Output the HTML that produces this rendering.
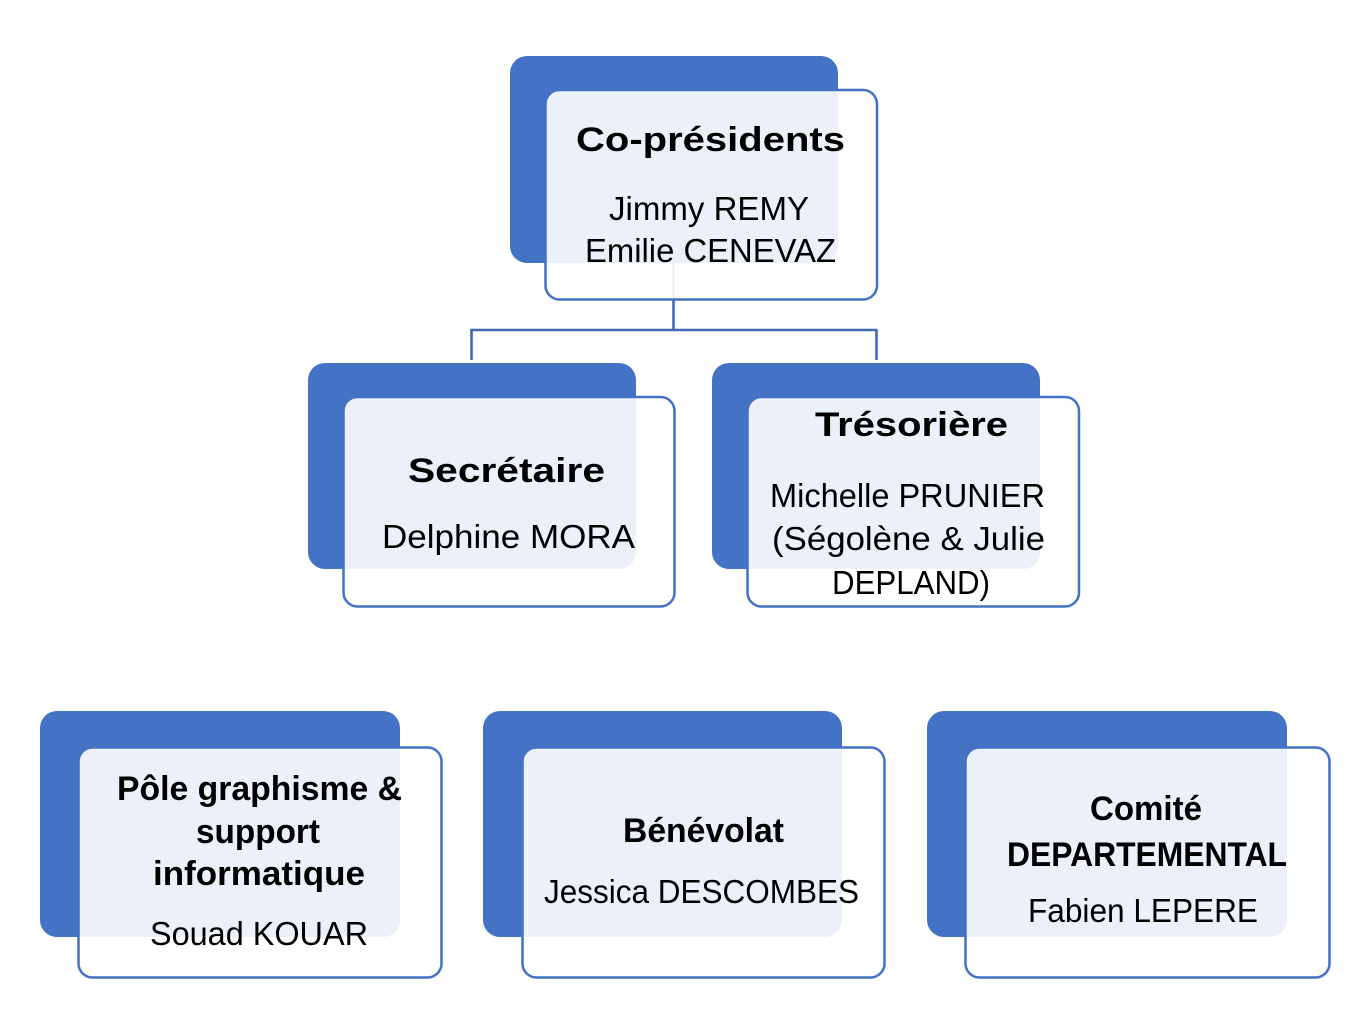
<!DOCTYPE html>
<html>
<head>
<meta charset="utf-8">
<style>
  html,body{margin:0;padding:0;background:#ffffff;}
  body{width:1370px;height:1018px;overflow:hidden;}
  svg{display:block;}
  text{font-family:"Liberation Sans", Arial, sans-serif;fill:#000;}
  .b{font-weight:bold;font-size:34px;}
  .r{font-size:33px;}
</style>
</head>
<body>
<svg width="1370" height="1018" viewBox="0 0 1370 1018" xmlns="http://www.w3.org/2000/svg">
  <!-- connectors (drawn behind) -->
  <g stroke="#4468B2" stroke-width="2.6" fill="none">
    <line x1="673.5" y1="262" x2="673.5" y2="330"/>
    <line x1="470.5" y1="330" x2="877" y2="330"/>
    <line x1="471.5" y1="329" x2="471.5" y2="360"/>
    <line x1="876.5" y1="329" x2="876.5" y2="360"/>
  </g>

  <!-- back blue boxes -->
  <g fill="#4472C4">
    <rect x="510" y="56" width="328" height="207" rx="17"/>
    <rect x="308" y="363" width="328" height="206" rx="17"/>
    <rect x="712" y="363" width="328" height="206" rx="17"/>
    <rect x="40" y="711" width="360" height="226" rx="17"/>
    <rect x="483" y="711" width="359" height="226" rx="17"/>
    <rect x="927" y="711" width="360" height="226" rx="17"/>
  </g>

  <!-- front boxes -->
  <g fill="#ffffff" fill-opacity="0.9" stroke="#4472C4" stroke-width="2.5">
    <rect x="545.5" y="90" width="331.5" height="209.5" rx="14"/>
    <rect x="343.5" y="397" width="331" height="209.5" rx="14"/>
    <rect x="747.5" y="397" width="331.5" height="209.5" rx="14"/>
    <rect x="78.5" y="747.5" width="363" height="230" rx="14"/>
    <rect x="522.5" y="747.5" width="362" height="230" rx="14"/>
    <rect x="965.5" y="747.5" width="364" height="230" rx="14"/>
  </g>

  <!-- Co-présidents -->
  <text class="b" x="576" y="151" textLength="269" lengthAdjust="spacingAndGlyphs">Co-présidents</text>
  <text class="r" x="609" y="220" textLength="200" lengthAdjust="spacingAndGlyphs">Jimmy REMY</text>
  <text class="r" x="585" y="262" textLength="251" lengthAdjust="spacingAndGlyphs">Emilie CENEVAZ</text>

  <!-- Secrétaire -->
  <text class="b" x="408" y="482" textLength="197" lengthAdjust="spacingAndGlyphs">Secrétaire</text>
  <text class="r" x="382" y="548" textLength="253" lengthAdjust="spacingAndGlyphs">Delphine MORA</text>

  <!-- Trésorière -->
  <text class="b" x="815" y="436" textLength="193" lengthAdjust="spacingAndGlyphs">Trésorière</text>
  <text class="r" x="770" y="507" textLength="275" lengthAdjust="spacingAndGlyphs">Michelle PRUNIER</text>
  <text class="r" x="772" y="550" textLength="273" lengthAdjust="spacingAndGlyphs">(Ségolène &amp; Julie</text>
  <text class="r" x="832" y="594" textLength="158" lengthAdjust="spacingAndGlyphs">DEPLAND)</text>

  <!-- Pôle graphisme -->
  <text class="b" x="117" y="800" textLength="285" lengthAdjust="spacingAndGlyphs">Pôle graphisme &amp;</text>
  <text class="b" x="196" y="843" textLength="124" lengthAdjust="spacingAndGlyphs">support</text>
  <text class="b" x="153" y="885" textLength="212" lengthAdjust="spacingAndGlyphs">informatique</text>
  <text class="r" x="150" y="945" textLength="218" lengthAdjust="spacingAndGlyphs">Souad KOUAR</text>

  <!-- Bénévolat -->
  <text class="b" x="623" y="842" textLength="161" lengthAdjust="spacingAndGlyphs">Bénévolat</text>
  <text class="r" x="544" y="903" textLength="315" lengthAdjust="spacingAndGlyphs">Jessica DESCOMBES</text>

  <!-- Comité -->
  <text class="b" x="1090" y="820" textLength="112" lengthAdjust="spacingAndGlyphs">Comité</text>
  <text class="b" x="1007" y="866" textLength="280" lengthAdjust="spacingAndGlyphs">DEPARTEMENTAL</text>
  <text class="r" x="1028" y="922" textLength="230" lengthAdjust="spacingAndGlyphs">Fabien LEPERE</text>
</svg>
</body>
</html>
